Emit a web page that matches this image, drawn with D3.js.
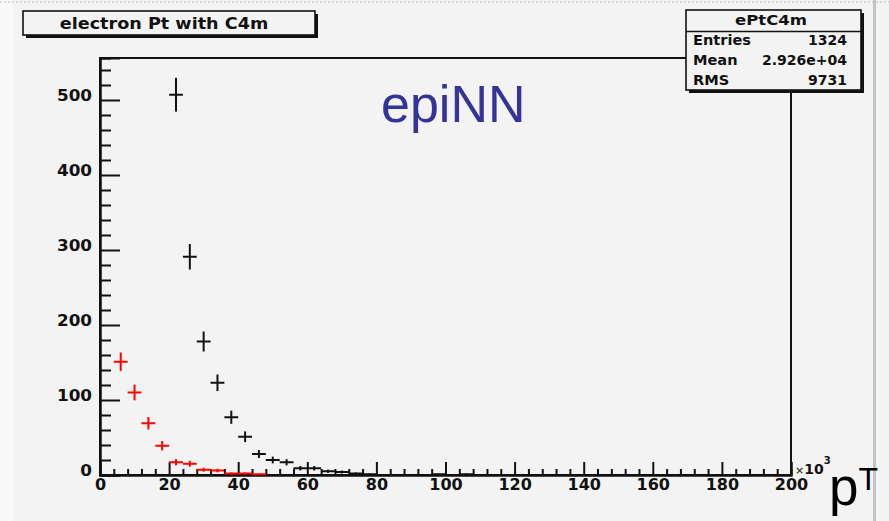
<!DOCTYPE html>
<html>
<head>
<meta charset="utf-8">
<script src="https://cdn.jsdelivr.net/npm/d3@7"></script>
<style>
  html, body { margin: 0; padding: 0; background: #f3f3f3; }
  svg { display: block; }
  .root { font-family: "DejaVu Sans", sans-serif; font-weight: bold; fill: #111; }
</style>
</head>
<body>
<svg id="chart" width="889" height="521"></svg>
<script>
// Histogram content: bin centres (×10³) and counts per bin, 4×10³ wide bins
const binWidth = 4;
const blackBins   = [22, 26, 30, 34, 38, 42, 46, 50, 54, 58, 62, 66, 70, 74, 78, 98, 106];
const blackCounts = [507, 291, 178, 123, 77, 51, 28, 20, 17, 9, 9, 5, 4, 2, 1, 1, 1];
const redBins     = [6, 10, 14, 18, 22, 26, 30, 34, 38, 42, 46];
const redCounts   = [151, 110, 69, 39, 17, 15, 7, 6, 2, 2, 1];

// Axis ticks
const xMajorTicks = [0, 20, 40, 60, 80, 100, 120, 140, 160, 180, 200];
const yMajorTicks = [0, 100, 200, 300, 400, 500];

// Text in the boxes
const histTitle = "electron Pt with C4m";
const statsName = "ePtC4m";
const statsRows = [["Entries", "1324"], ["Mean", "2.926e+04"], ["RMS", "9731"]];

const svg = d3.select("#chart");
const W = 889, H = 521;

// widen a text element horizontally by factor k
function stretch(sel, k) {
  sel.each(function () {
    const len = this.getComputedTextLength();
    d3.select(this).attr("textLength", len * k).attr("lengthAdjust", "spacingAndGlyphs");
  });
}

// page background details
svg.append("rect").attr("x", 0).attr("y", 0).attr("width", W).attr("height", H).attr("fill", "#f3f3f3");
svg.append("rect").attr("x", 0).attr("y", 0).attr("width", 13).attr("height", H).attr("fill", "#f9f9f9");
svg.append("line").attr("x1", 0).attr("x2", W).attr("y1", 2).attr("y2", 2)
  .attr("stroke", "#d0d0d0").attr("stroke-width", 1.5).attr("stroke-dasharray", "2,2");
svg.append("rect").attr("x", 873).attr("y", 0).attr("width", 3).attr("height", H).attr("fill", "#c4c4c4");

const frame = { left: 100, right: 791, top: 58, bottom: 475 };
const x = d3.scaleLinear().domain([0, 200]).range([frame.left, frame.right]);
const y = d3.scaleLinear().domain([0, 556]).range([frame.bottom, frame.top]);

// frame
svg.append("rect")
  .attr("x", frame.left).attr("y", frame.top)
  .attr("width", frame.right - frame.left).attr("height", frame.bottom - frame.top)
  .attr("fill", "none").attr("stroke", "#111").attr("stroke-width", 2);

// x axis: ticks drawn inward (upward)
const xMinor = d3.range(0, 201, 4).filter(v => v % 20 !== 0);
const xAxisMajor = d3.axisBottom(x).tickValues(xMajorTicks).tickSize(-13).tickFormat(d3.format("d"));
const xAxisMinor = d3.axisBottom(x).tickValues(xMinor).tickSize(-6).tickFormat("");
const gx = svg.append("g").attr("transform", `translate(0,${frame.bottom})`);
gx.call(xAxisMinor);
const gxm = svg.append("g").attr("transform", `translate(0,${frame.bottom})`).call(xAxisMajor);
[gx, gxm].forEach(g => {
  g.select(".domain").attr("stroke", "#111").attr("stroke-width", 2);
  g.selectAll(".tick line").attr("stroke", "#111").attr("stroke-width", 2);
});
gxm.selectAll(".tick text")
  .attr("class", "root").attr("font-size", 16).attr("y", 4).attr("dy", "0.71em").attr("fill", "#111");

// y axis: ticks drawn inward (rightward)
const yMinor = d3.range(0, 541, 20).filter(v => v % 100 !== 0);
const yAxisMajor = d3.axisLeft(y).tickValues(yMajorTicks).tickSize(-20).tickFormat(d3.format("d"));
const yAxisMinor = d3.axisLeft(y).tickValues(yMinor).tickSize(-11).tickFormat("");
const gy = svg.append("g").attr("transform", `translate(${frame.left},0)`).call(yAxisMinor);
const gym = svg.append("g").attr("transform", `translate(${frame.left},0)`).call(yAxisMajor);
[gy, gym].forEach(g => {
  g.select(".domain").attr("stroke", "#111").attr("stroke-width", 2);
  g.selectAll(".tick line").attr("stroke", "#111").attr("stroke-width", 2);
});
gym.selectAll(".tick text")
  .attr("class", "root").attr("font-size", 16).attr("x", -8).attr("dy", "0.05em").attr("fill", "#111")
  .call(stretch, 1.05);

// ×10³ axis multiplier
const mult = svg.append("text").attr("class", "root").attr("x", 795).attr("y", 474).attr("font-size", 14);
mult.append("tspan").attr("font-weight", "normal").attr("font-size", 11).text("×");
mult.append("tspan").text("10");
mult.append("tspan").attr("font-size", 10).attr("dy", -10).text("3");

// error-bar crosses (Poisson errors)
function drawHist(bins, counts, colour) {
  const data = bins.map((b, i) => ({ c: b, n: counts[i] }));
  const g = svg.append("g").attr("stroke", colour).attr("stroke-width", 2).attr("fill", "none");
  g.selectAll("line.h").data(data).join("line").attr("class", "h")
    .attr("x1", d => x(d.c - binWidth / 2)).attr("x2", d => x(d.c + binWidth / 2))
    .attr("y1", d => y(d.n)).attr("y2", d => y(d.n));
  g.selectAll("line.v").data(data).join("line").attr("class", "v")
    .attr("x1", d => x(d.c)).attr("x2", d => x(d.c))
    .attr("y1", d => y(Math.max(0, d.n - Math.sqrt(d.n)))).attr("y2", d => y(d.n + Math.sqrt(d.n)));
}
drawHist(blackBins, blackCounts, "#111");
drawHist(redBins, redCounts, "#ff0000");

// title box with shadow
function shadowBox(x0, y0, w, h) {
  svg.append("rect").attr("x", x0 + 3).attr("y", y0 + 3).attr("width", w).attr("height", h).attr("fill", "#111");
  svg.append("rect").attr("x", x0).attr("y", y0).attr("width", w).attr("height", h)
    .attr("fill", "#f3f3f3").attr("stroke", "#111").attr("stroke-width", 1.6);
}
shadowBox(23, 11, 292, 24);
svg.append("text").attr("class", "root").attr("x", 164).attr("y", 28.5).attr("font-size", 16)
  .attr("text-anchor", "middle").text(histTitle).call(stretch, 1.1);

// statistics box
shadowBox(686, 10, 175, 80);
svg.append("line").attr("x1", 686).attr("x2", 861).attr("y1", 31.5).attr("y2", 31.5)
  .attr("stroke", "#111").attr("stroke-width", 1.6);
svg.append("text").attr("class", "root").attr("x", 771).attr("y", 25).attr("font-size", 14)
  .attr("text-anchor", "middle").text(statsName).call(stretch, 1.18);
statsRows.forEach((r, i) => {
  const by = 45 + i * 20;
  svg.append("text").attr("class", "root").attr("x", 693).attr("y", by).attr("font-size", 14)
    .text(r[0]).call(stretch, 1.04);
  svg.append("text").attr("class", "root").attr("x", 847).attr("y", by).attr("font-size", 14)
    .attr("text-anchor", "end").text(r[1]);
});

// annotations
svg.append("text").attr("x", 381).attr("y", 122).attr("font-family", "'Liberation Sans', Arial, sans-serif")
  .attr("font-size", 52).attr("fill", "#333399").text("epiNN");
const pt = svg.append("text").attr("x", 829).attr("y", 505).attr("font-family", "'Liberation Sans', Arial, sans-serif")
  .attr("font-size", 53).attr("fill", "#000");
pt.append("tspan").text("p");
pt.append("tspan").attr("font-size", 32).attr("dy", -15).text("T");
</script>
</body>
</html>
